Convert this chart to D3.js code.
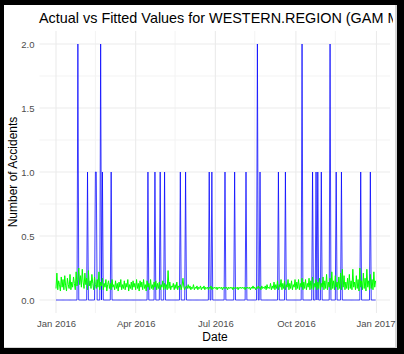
<!DOCTYPE html>
<html>
<head>
<meta charset="utf-8">
<script src="https://cdn.jsdelivr.net/npm/d3@7"></script>
<style>
  body { margin: 0; background: #000; }
  svg { display: block; font-family: "Liberation Sans", Arial, sans-serif; }
</style>
</head>
<body>
<div id="chart"></div>
<script>
// Days with at least one accident (all other days are 0)
const accidentDays = ["2016-01-26", "2016-02-06", "2016-02-15", "2016-02-16", "2016-02-21", "2016-02-23",
  "2016-03-04", "2016-04-15", "2016-04-23", "2016-04-29", "2016-05-04", "2016-05-22", "2016-05-28",
  "2016-06-24", "2016-06-27", "2016-07-12", "2016-07-23", "2016-08-05", "2016-08-18", "2016-08-21",
  "2016-09-11", "2016-09-19", "2016-10-08", "2016-10-20", "2016-10-24", "2016-10-26", "2016-10-30",
  "2016-11-09", "2016-11-16", "2016-11-22", "2016-12-14", "2016-12-25"];
const accidentCounts = [2, 1, 1, 1, 2, 1,
  1, 1, 1, 1, 1, 1, 1,
  1, 1, 1, 1, 1, 2, 1,
  1, 1, 2, 1, 1, 1, 1,
  2, 1, 1, 1, 1];

// Fitted values, one per day, month by month
const fittedJan = [0.09,0.21,0.08,0.15,0.12,0.07,0.18, 0.10,0.16,0.08,0.19,0.11,0.07,0.17, 0.12,0.09,0.20,0.08,0.14,0.10,0.18, 0.13,0.08,0.22,0.11,0.16,0.25,0.12, 0.19,0.10,0.24];
const fittedFeb = [0.14,0.09,0.21,0.12,0.17,0.08,0.23, 0.11,0.15,0.09,0.20,0.13,0.08,0.18, 0.12,0.09,0.16,0.10,0.22,0.08,0.14, 0.11,0.17,0.08,0.13,0.10,0.16,0.07,0.12];
const fittedMar = [0.15,0.09,0.13,0.08,0.16,0.10,0.12, 0.08,0.15,0.09,0.13,0.07,0.14,0.10, 0.16,0.08,0.12,0.09,0.15,0.08,0.13, 0.10,0.16,0.07,0.12,0.09,0.14,0.08, 0.15,0.10,0.13];
const fittedApr = [0.08,0.16,0.09,0.13,0.07,0.15,0.10, 0.14,0.08,0.16,0.09,0.12,0.07,0.15, 0.10,0.13,0.08,0.16,0.09,0.12,0.08, 0.14,0.10,0.15,0.08,0.13,0.09,0.14, 0.08,0.12];
const fittedMay = [0.10,0.15,0.08,0.13,0.09,0.12,0.08, 0.23,0.09,0.14,0.08,0.11,0.10,0.13, 0.08,0.12,0.09,0.14,0.08,0.11,0.10, 0.12,0.08,0.11,0.17,0.10,0.08,0.10, 0.11,0.09,0.12];
const fittedJun = [0.09,0.11,0.08,0.10,0.09,0.12,0.08, 0.10,0.09,0.11,0.08,0.10,0.09,0.11, 0.08,0.10,0.09,0.11,0.08,0.10,0.09, 0.10,0.08,0.10,0.09,0.11,0.08,0.10, 0.09,0.10];
const fittedJul = [0.09,0.10,0.08,0.10,0.09,0.10,0.09, 0.10,0.08,0.10,0.09,0.10,0.09,0.10, 0.08,0.10,0.09,0.10,0.09,0.10,0.08, 0.10,0.09,0.10,0.09,0.10,0.08,0.10, 0.09,0.10,0.09];
const fittedAug = [0.10,0.09,0.10,0.08,0.10,0.09,0.10, 0.09,0.10,0.08,0.10,0.09,0.11,0.09, 0.10,0.08,0.10,0.09,0.11,0.09,0.10, 0.08,0.11,0.09,0.10,0.09,0.11,0.08, 0.12,0.09,0.10];
const fittedSep = [0.09,0.13,0.08,0.11,0.09,0.14,0.08, 0.12,0.09,0.15,0.08,0.12,0.10,0.16, 0.08,0.13,0.09,0.15,0.08,0.12,0.10, 0.16,0.08,0.13,0.09,0.15,0.08,0.12, 0.10,0.16];
const fittedOct = [0.08,0.14,0.09,0.16,0.08,0.13,0.10, 0.17,0.08,0.14,0.09,0.16,0.08,0.13, 0.10,0.17,0.08,0.15,0.09,0.18,0.08, 0.13,0.10,0.16,0.08,0.14,0.09,0.17, 0.08,0.13,0.10];
const fittedNov = [0.18,0.08,0.15,0.09,0.20,0.08,0.14, 0.10,0.17,0.08,0.22,0.09,0.15,0.08, 0.19,0.10,0.14,0.08,0.18,0.09,0.21, 0.08,0.24,0.10,0.19,0.08,0.14,0.09, 0.17,0.08];
const fittedDec = [0.20,0.09,0.15,0.08,0.24,0.10,0.14, 0.08,0.19,0.09,0.16,0.07,0.25,0.10, 0.15,0.08,0.21,0.09,0.17,0.07,0.24, 0.10,0.15,0.08,0.20,0.09,0.16,0.08, 0.22,0.10,0.15];

const yTicks = [0, 0.5, 1, 1.5, 2];
const yMinorTicks = [0.25, 0.75, 1.25, 1.75];
const xTicks = ["2016-01-01", "2016-04-01", "2016-07-01", "2016-10-01", "2017-01-01"];
const xMinorTicks = ["2016-02-15", "2016-05-16", "2016-08-15", "2016-11-15"];

const W = 404, H = 354;
const panel = {left: 39.5, right: 390, top: 31, bottom: 313};

const parse = d3.utcParse("%Y-%m-%d");
const fitted = [].concat(fittedJan, fittedFeb, fittedMar, fittedApr, fittedMay, fittedJun,
  fittedJul, fittedAug, fittedSep, fittedOct, fittedNov, fittedDec);
const days = d3.utcDay.range(parse("2016-01-01"), parse("2017-01-01"));
const countByDay = new Map(accidentDays.map((d, i) => [d, accidentCounts[i]]));
const fmtDay = d3.utcFormat("%Y-%m-%d");
const series = days.map((d, i) => ({date: d, actual: countByDay.get(fmtDay(d)) || 0, fitted: fitted[i]}));

const svg = d3.select("#chart").append("svg")
    .attr("width", W)
    .attr("height", H);

// black frame of the screenshot
svg.append("rect").attr("width", W).attr("height", H).attr("fill", "#000");
svg.append("rect").attr("x", 4).attr("y", 5).attr("width", 393).attr("height", 343).attr("fill", "#d6d6d6");
svg.append("rect").attr("x", 4).attr("y", 5).attr("width", 391).attr("height", 342).attr("fill", "#fff");

svg.append("clipPath").attr("id", "clip")
  .append("rect").attr("x", 4).attr("y", 5).attr("width", 391).attr("height", 342);
svg.append("clipPath").attr("id", "clipTitle")
  .append("rect").attr("x", 4).attr("y", 5).attr("width", 389).attr("height", 342);

const g = svg.append("g").attr("clip-path", "url(#clip)");

const x = d3.scaleUtc()
    .domain([parse("2016-01-01"), parse("2016-12-31")])
    .range([56, 375.6]);
const y = d3.scaleLinear()
    .domain([0, 2])
    .range([300, 44]);

// grid
g.selectAll(".ygrid-minor").data(yMinorTicks).join("line")
    .attr("x1", panel.left).attr("x2", panel.right)
    .attr("y1", d => y(d)).attr("y2", d => y(d))
    .attr("stroke", "#f3f3f3").attr("stroke-width", 1);
g.selectAll(".xgrid-minor").data(xMinorTicks).join("line")
    .attr("x1", d => x(parse(d))).attr("x2", d => x(parse(d)))
    .attr("y1", panel.top).attr("y2", panel.bottom)
    .attr("stroke", "#f3f3f3").attr("stroke-width", 1);
g.selectAll(".ygrid").data(yTicks).join("line")
    .attr("x1", panel.left).attr("x2", panel.right)
    .attr("y1", d => y(d)).attr("y2", d => y(d))
    .attr("stroke", "#ebebeb").attr("stroke-width", 1.1);
g.selectAll(".xgrid").data(xTicks).join("line")
    .attr("x1", d => x(parse(d))).attr("x2", d => x(parse(d)))
    .attr("y1", panel.top).attr("y2", panel.bottom)
    .attr("stroke", "#ebebeb").attr("stroke-width", 1.1);

// lines
g.append("path")
    .datum(series)
    .attr("fill", "none")
    .attr("stroke", "#0000ff")
    .attr("stroke-opacity", 0.75)
    .attr("stroke-width", 1)
    .attr("d", d3.line().x(d => x(d.date)).y(d => y(d.actual)));

g.append("path")
    .datum(series)
    .attr("fill", "none")
    .attr("stroke", "#00ff00")
    .attr("stroke-width", 1)
    .attr("d", d3.line().x(d => x(d.date)).y(d => y(d.fitted)));

// axes (labels only, like theme_minimal)
const yAxis = g.append("g")
    .attr("transform", `translate(${panel.left},0)`)
    .call(d3.axisLeft(y).tickValues(yTicks).tickFormat(d3.format(".1f")).tickSize(0).tickPadding(5));
const xAxis = svg.append("g")
    .attr("transform", `translate(0,${panel.bottom})`)
    .call(d3.axisBottom(x).tickValues(xTicks.map(parse)).tickFormat(d3.utcFormat("%b %Y")).tickSize(0).tickPadding(7));
[yAxis, xAxis].forEach(a => {
  a.select(".domain").remove();
  a.selectAll("text").attr("fill", "#4d4d4d").style("font-size", "9.5px")
    .style("font-family", '"Liberation Sans", Arial, sans-serif');
});
xAxis.selectAll(".tick").filter((d, i) => i === xTicks.length - 1)
    .select("text").attr("dx", "-1px");

// title is cropped at the right edge in the original screenshot
svg.append("text")
    .attr("clip-path", "url(#clipTitle)")
    .attr("x", 39)
    .attr("y", 23)
    .style("font-size", "14.4px")
    .attr("fill", "#000")
    .text("Actual vs Fitted Values for WESTERN.REGION (GAM Model)");

g.append("text")
    .attr("text-anchor", "middle")
    .attr("x", 215)
    .attr("y", 341)
    .style("font-size", "12px")
    .text("Date");

g.append("text")
    .attr("text-anchor", "middle")
    .attr("transform", "translate(16.5,172) rotate(-90)")
    .style("font-size", "12px")
    .text("Number of Accidents");
</script>
</body>
</html>
